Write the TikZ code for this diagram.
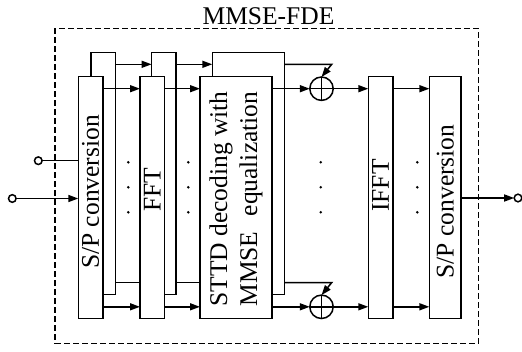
\documentclass[tikz,border=0pt]{standalone}
\usepackage{fontspec}
\setmainfont{Liberation Serif}
\usetikzlibrary{arrows.meta}
\tikzset{
  blk/.style={draw, fill=white, line width=1.6pt, inner sep=0pt, outer sep=0pt, rectangle},
  arr/.style={line width=1.5pt, -{Triangle[length=10pt,width=7pt]}},
  ln/.style={line width=1.5pt},
  port/.style={draw, fill=white, circle, line width=1.5pt, minimum size=7.6pt, inner sep=0pt, outer sep=0pt},
  adder/.style={draw, fill=white, circle, line width=1.5pt, minimum size=23.4pt, inner sep=0pt, outer sep=0pt},
  lbl/.style={font=\fontsize{25.5}{30}\selectfont, inner sep=0pt},
}
\begin{document}
\begin{tikzpicture}[x=1pt,y=-1pt]
\useasboundingbox (0,0) rectangle (522,351);
% dashed frame
\draw[line width=1.5pt, dash pattern=on 5.5pt off 3.5pt] (55,28.3) rectangle (478.3,343.3);
\node[lbl, anchor=base] (title) at (268.5,24) {MMSE-FDE};
% back boxes
\node[blk, minimum width=24.4pt, minimum height=242pt] (sp1b) at (103.2,173.3) {};
\node[blk, minimum width=24.4pt, minimum height=242pt] (fftb) at (163.8,173.3) {};
\node[blk, minimum width=72pt, minimum height=242pt] (sttdb) at (248.3,173.3) {};
% back connectors
\draw[arr] ([yshift=-12pt]sp1b.north east) -- ([yshift=-12pt]fftb.north west);
\draw[arr] ([yshift=-12pt]fftb.north east) -- ([yshift=-12pt]sttdb.north west);
\draw[arr] ([yshift=11.7pt]sp1b.south east) -- ([yshift=11.7pt]fftb.south west);
\draw[arr] ([yshift=11.7pt]fftb.south east) -- ([yshift=11.7pt]sttdb.south west);
% front boxes
\node[blk, minimum width=24.4pt, minimum height=242pt] (sp1f) at (90.5,197.5) {};
\node[blk, minimum width=24.4pt, minimum height=242pt] (fftf) at (152.2,197.5) {};
\node[blk, minimum width=72pt, minimum height=242pt] (sttdf) at (236,197.5) {};
\node[blk, minimum width=24.4pt, minimum height=242pt] (ifft) at (380.5,197.5) {};
\node[blk, minimum width=31.7pt, minimum height=242pt] (sp2) at (445.2,197.5) {};
% labels
\node[lbl, rotate=90] (sp1t) at (90.5,192) {S/P conversion};
\node[lbl, rotate=90] (fftt) at (152.2,190) {FFT};
\node[lbl, rotate=90, align=left] (sttdt) at (236,199) {STTD decoding with\\MMSE\hspace{0.6em}equalization};
\node[lbl, rotate=90] (ifftt) at (380.5,185.5) {IFFT};
\node[lbl, rotate=90] (sp2t) at (445.2,201.5) {S/P conversion};
% adders
\node[adder] (add1) at (321.5,88.7) {};
\draw[ln] (add1.north) -- (add1.south) (add1.west) -- (add1.east);
\node[adder] (add2) at (321.5,306.8) {};
\draw[ln] (add2.north) -- (add2.south) (add2.west) -- (add2.east);
% front connectors
\draw[arr] ([yshift=-12.2pt]sp1f.north east) -- ([yshift=-12.2pt]fftf.north west);
\draw[arr] ([yshift=-12.2pt]fftf.north east) -- ([yshift=-12.2pt]sttdf.north west);
\draw[arr] (sttdf.east |- add1) -- (add1.west);
\draw[arr] (add1.east) -- (ifft.west |- add1);
\draw[arr] ([yshift=-12.2pt]ifft.north east) -- ([yshift=-12.2pt]sp2.north west);
\draw[arr] ([yshift=11.7pt]sp1f.south east) -- ([yshift=11.7pt]fftf.south west);
\draw[arr] ([yshift=11.7pt]fftf.south east) -- ([yshift=11.7pt]sttdf.south west);
\draw[arr] (sttdf.east |- add2) -- (add2.west);
\draw[arr] (add2.east) -- (ifft.west |- add2);
\draw[arr] ([yshift=11.7pt]ifft.south east) -- ([yshift=11.7pt]sp2.south west);
% feedback
\coordinate (fb1) at (331.7,64.3);
\coordinate (fb2) at (331.7,282.6);
\draw[arr] ([yshift=-12pt]sttdb.north east) -- (fb1) -- (add1.north);
\draw[arr] ([yshift=11.7pt]sttdb.south east) -- (fb2) -- (add2.north);
% ports
\node[port] (in1) at (38.3,160.7) {};
\node[port] (in2) at (12.3,198.5) {};
\node[port] (out) at (518,198) {};
\draw[ln] (in1) -- (in1 -| sp1f.west);
\draw[arr] (in2) -- (in2 -| sp1f.west);
\draw[arr] (sp2.east |- out) -- (out);
% dots
\foreach \x in {128.3,188.3,320.7,417.3}{
  \foreach \y in {162.3,187.3,212.3}{
    \fill (\x,\y) circle (1.4pt);
  }
}
\end{tikzpicture}
\end{document}
